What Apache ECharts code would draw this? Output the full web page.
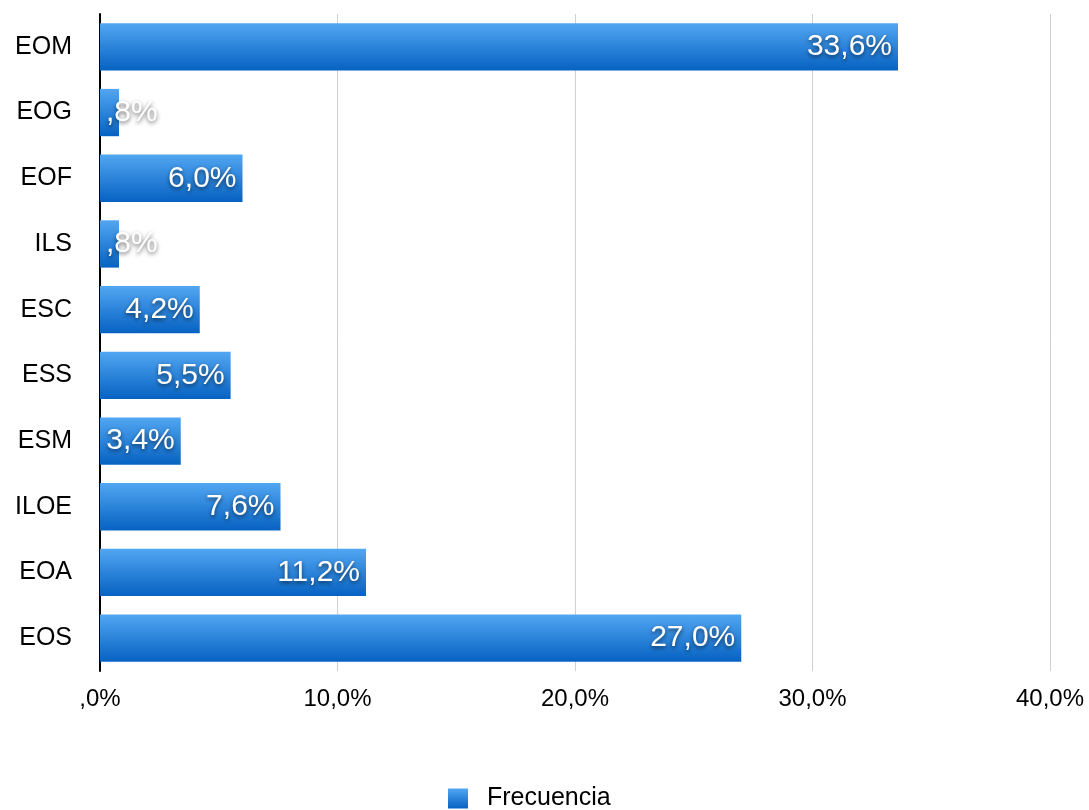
<!DOCTYPE html>
<html>
<head>
<meta charset="utf-8">
<script src="https://cdn.jsdelivr.net/npm/echarts@6/dist/echarts.min.js"></script>
<style>
  html, body { margin: 0; padding: 0; background: #fff; }
  #chart { width: 1089px; height: 810px; }
</style>
</head>
<body>
<div id="chart"></div>
<script>
// categories from bottom to top (echarts category y axis starts at the bottom)
const categories = ["EOS", "EOA", "ILOE", "ESM", "ESS", "ESC", "ILS", "EOF", "EOG", "EOM"];
const frecuencia = [27.0, 11.2, 7.6, 3.4, 5.5, 4.2, 0.8, 6.0, 0.8, 33.6];
const seriesName = "Frecuencia";

// spanish style: comma decimal, no leading zero
const fmt = (v) => {
  let s = v.toFixed(1).replace(".", ",");
  if (s.startsWith("0,")) s = s.slice(1);
  return s + "%";
};

const barGrad = new echarts.graphic.LinearGradient(0, 0, 0, 1, [
  { offset: 0, color: "#52a6f2" },
  { offset: 1, color: "#0662c2" },
]);

var myChart = echarts.init(document.getElementById("chart"));
var option = {
  animation: false,
  grid: {
    left: 100,
    right: 39,
    top: 14,
    bottom: 139,
  },
  legend: {
    bottom: -6,
    left: 443,
    data: [seriesName],
    itemWidth: 20,
    itemHeight: 20,
    icon: "rect",
    textStyle: {
      fontSize: 25,
      color: "#000",
      fontFamily: "Liberation Sans",
      padding: [0, 0, 0, 14],
    },
  },
  xAxis: {
    type: "value",
    min: 0,
    max: 40,
    interval: 10,
    axisLine: { show: false },
    axisTick: { show: false },
    splitLine: { lineStyle: { color: "#d0d0d0", width: 1 } },
    axisLabel: {
      formatter: (v) => fmt(v),
      fontSize: 24,
      color: "#000",
      margin: 16,
      fontFamily: "Liberation Sans",
    },
  },
  yAxis: {
    type: "category",
    data: categories,
    axisLine: { show: true, lineStyle: { color: "#000", width: 2 } },
    axisTick: { show: false },
    axisLabel: {
      fontSize: 25,
      color: "#000",
      margin: 28,
      fontFamily: "Liberation Sans",
    },
  },
  series: [
    {
      name: seriesName,
      type: "bar",
      data: frecuencia.map((v) => ({
        value: v,
        label: { position: v < 2 ? "insideLeft" : "insideRight" },
      })),
      barCategoryGap: "28%",
      itemStyle: { color: barGrad },
      label: {
        show: true,
        formatter: (p) => fmt(p.value),
        color: "#fff",
        fontSize: 30,
        fontFamily: "Liberation Sans",
        textShadowColor: "rgba(0,0,0,0.6)",
        textShadowBlur: 4,
        textShadowOffsetX: 0,
        textShadowOffsetY: 2,
        distance: 6,
      },
    },
  ],
};
option && myChart.setOption(option);
</script>
</body>
</html>
